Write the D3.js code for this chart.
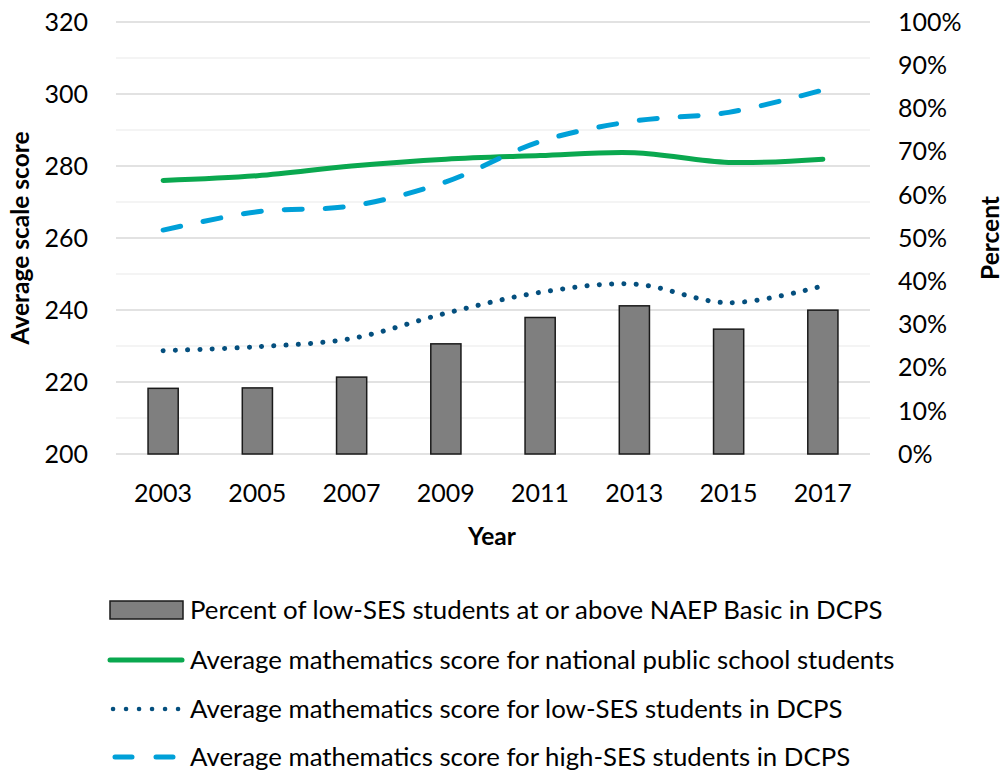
<!DOCTYPE html>
<html>
<head>
<meta charset="utf-8">
<script src="https://cdn.jsdelivr.net/npm/d3@7"></script>
<style>
  body { margin: 0; background: #fff; }
  svg text { font-family: Lato, "Open Sans", sans-serif; fill: #000; }
</style>
</head>
<body>
<div id="chart"></div>
<script>
// Data
var years = ["2003", "2005", "2007", "2009", "2011", "2013", "2015", "2017"];
var pctBasic = [15.2, 15.3, 17.8, 25.5, 31.6, 34.3, 28.9, 33.3];
var nationalScore = [276, 277.3, 280, 281.9, 282.9, 283.7, 281, 281.9];
var lowSesScore = [228.7, 229.8, 232.1, 239.1, 244.9, 247.2, 242, 246.7];
var highSesScore = [262.2, 267.3, 268.9, 275.6, 286.8, 292.5, 294.9, 301.1];
var leftTicks = [200, 220, 240, 260, 280, 300, 320];
var rightTicks = [0, 10, 20, 30, 40, 50, 60, 70, 80, 90, 100];
var legendLabels = [
    "Percent of low-SES students at or above NAEP Basic in DCPS",
    "Average mathematics score for national public school students",
    "Average mathematics score for low-SES students in DCPS",
    "Average mathematics score for high-SES students in DCPS"
];

var width = 1004, height = 775;
var svg = d3.select("#chart").append("svg")
    .attr("width", width)
    .attr("height", height);

var plotLeft = 116, plotRight = 870, plotTop = 22, plotBottom = 454;

var x = d3.scaleBand().domain(years).range([plotLeft, plotRight]).padding(0);
var yScore = d3.scaleLinear().domain([200, 320]).range([plotBottom, plotTop]);
var yPct = d3.scaleLinear().domain([0, 100]).range([plotBottom, plotTop]);

// Gridlines: minor (every 10) and major (every 20)
var minor = d3.range(210, 320, 20);
svg.append("g").selectAll("line")
    .data(minor)
    .enter()
    .append("line")
    .attr("x1", plotLeft).attr("x2", plotRight)
    .attr("y1", function(d) { return yScore(d); })
    .attr("y2", function(d) { return yScore(d); })
    .style("stroke", "#f0f0f0")
    .style("stroke-width", 1.5);

svg.append("g").selectAll("line")
    .data(leftTicks)
    .enter()
    .append("line")
    .attr("x1", plotLeft).attr("x2", plotRight)
    .attr("y1", function(d) { return yScore(d); })
    .attr("y2", function(d) { return yScore(d); })
    .style("stroke", "#d9d9d9")
    .style("stroke-width", 1.5);

// Bars
var barW = x.bandwidth() * 0.32;
svg.append("g").selectAll("rect")
    .data(pctBasic)
    .enter()
    .append("rect")
    .attr("x", function(d, i) { return x(years[i]) + x.bandwidth() / 2 - barW / 2; })
    .attr("y", function(d) { return yPct(d); })
    .attr("width", barW)
    .attr("height", function(d) { return plotBottom - yPct(d); })
    .style("fill", "#7f7f7f")
    .style("stroke", "#1a1a1a")
    .style("stroke-width", 1.5);

// Lines
var line = d3.line()
    .x(function(d, i) { return x(years[i]) + x.bandwidth() / 2; })
    .y(function(d) { return yScore(d); })
    .curve(d3.curveCatmullRom.alpha(0.5));

svg.append("path")
    .attr("d", line(nationalScore))
    .style("fill", "none")
    .style("stroke", "#0aa84f")
    .style("stroke-width", 5)
    .style("stroke-linecap", "round");

svg.append("path")
    .attr("d", line(lowSesScore))
    .style("fill", "none")
    .style("stroke", "#044f7e")
    .style("stroke-width", 5)
    .style("stroke-dasharray", "0.1,12.2")
    .style("stroke-linecap", "round");

svg.append("path")
    .attr("d", line(highSesScore))
    .style("fill", "none")
    .style("stroke", "#00a0d8")
    .style("stroke-width", 5)
    .style("stroke-dasharray", "18,23")
    .style("stroke-linecap", "round");

// Left axis labels
svg.append("g").selectAll("text")
    .data(leftTicks)
    .enter()
    .append("text")
    .attr("x", 88)
    .attr("y", function(d) { return yScore(d); })
    .attr("dy", "0.35em")
    .attr("text-anchor", "end")
    .style("font-size", "25px")
    .text(function(d) { return d; });

// Right axis labels
svg.append("g").selectAll("text")
    .data(rightTicks)
    .enter()
    .append("text")
    .attr("x", 898)
    .attr("y", function(d) { return yPct(d); })
    .attr("dy", "0.35em")
    .attr("text-anchor", "start")
    .style("font-size", "25px")
    .text(function(d) { return d + "%"; });

// X axis labels
svg.append("g").selectAll("text")
    .data(years)
    .enter()
    .append("text")
    .attr("x", function(d) { return x(d) + x.bandwidth() / 2; })
    .attr("y", 502)
    .attr("text-anchor", "middle")
    .style("font-size", "25px")
    .text(function(d) { return d; });

// Axis titles
svg.append("text")
    .attr("transform", "translate(29,238) rotate(-90)")
    .attr("text-anchor", "middle")
    .style("font-size", "24.5px")
    .style("font-weight", "bold")
    .text("Average scale score");

svg.append("text")
    .attr("transform", "translate(999,238) rotate(-90)")
    .attr("text-anchor", "middle")
    .style("font-size", "24.5px")
    .style("font-weight", "bold")
    .text("Percent");

svg.append("text")
    .attr("x", 492)
    .attr("y", 545)
    .attr("text-anchor", "middle")
    .style("font-size", "24.5px")
    .style("font-weight", "bold")
    .text("Year");

// Legend
var legendY = [610, 660, 709, 757];
var lg = svg.append("g");

lg.append("rect")
    .attr("x", 110).attr("y", legendY[0] - 9)
    .attr("width", 73).attr("height", 18)
    .style("fill", "#7f7f7f")
    .style("stroke", "#1a1a1a")
    .style("stroke-width", 1.5);

lg.append("line")
    .attr("x1", 110).attr("x2", 182)
    .attr("y1", legendY[1]).attr("y2", legendY[1])
    .style("stroke", "#0aa84f")
    .style("stroke-width", 5)
    .style("stroke-linecap", "round");

lg.append("line")
    .attr("x1", 113).attr("x2", 180)
    .attr("y1", legendY[2]).attr("y2", legendY[2])
    .style("stroke", "#044f7e")
    .style("stroke-width", 4.5)
    .style("stroke-dasharray", "0.1,12.9")
    .style("stroke-linecap", "round");

lg.append("line")
    .attr("x1", 115).attr("x2", 180)
    .attr("y1", legendY[3]).attr("y2", legendY[3])
    .style("stroke", "#00a0d8")
    .style("stroke-width", 5)
    .style("stroke-dasharray", "17,24")
    .style("stroke-linecap", "round");

lg.selectAll("text.leg")
    .data(legendLabels)
    .enter()
    .append("text")
    .attr("class", "leg")
    .attr("x", 190)
    .attr("y", function(d, i) { return legendY[i]; })
    .attr("dy", "0.35em")
    .style("font-size", "25.8px")
    .text(function(d) { return d; });
</script>
</body>
</html>
